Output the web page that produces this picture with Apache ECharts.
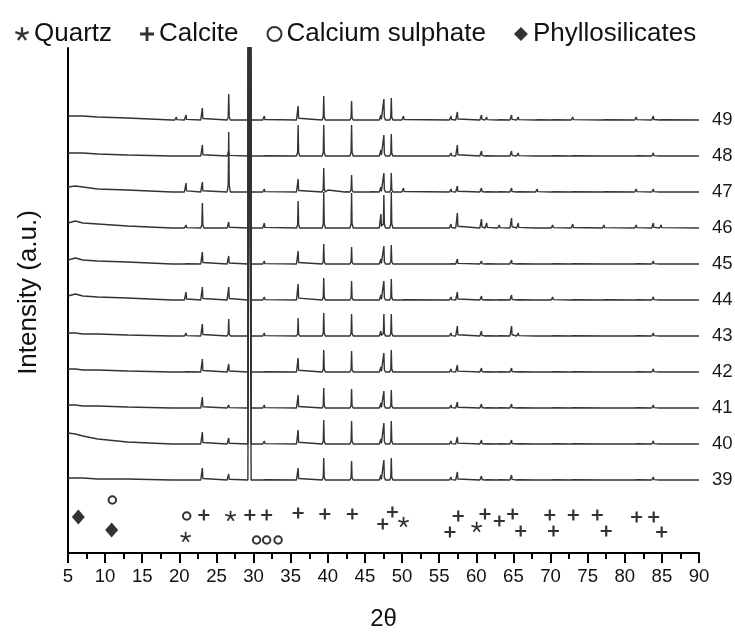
<!DOCTYPE html>
<html><head><meta charset="utf-8">
<script src="https://cdn.jsdelivr.net/npm/echarts@6/dist/echarts.min.js"></script>
<style>html,body{margin:0;padding:0;background:#fff}#c{width:735px;height:637px}</style>
</head><body><div id="c"></div>
<script>
// ---------- data ----------
const sampleNames = ['39','40','41','42','43','44','45','46','47','48','49'];
const xTicks = [5,10,15,20,25,30,35,40,45,50,55,60,65,70,75,80,85,90];

// diffraction peak positions (2θ)
const peakPositions = [19.6,20.9,23.1,26.65,29.45,31.45,36.0,39.45,40.0,42.5,43.2,45.9,47.15,47.55,48.55,50.2,56.6,57.45,60.7,61.4,63.1,64.75,65.65,68.2,70.3,73.0,77.2,81.55,83.85,84.9];
// peak heights per sample (a.u.)
const h39 = [0,1,12,6,3000,2,12,22,0,0,19,0,5,20,22,1,3,8,4,2,2,5,2,1,2,2,1,2,3,1];
const h40 = [0,0,12,6,3000,3,14,24,0,0,23,0,5,21,23,1,3,7,4,2,2,4,2,1,2,2,1,2,3,1];
const h41 = [0,0,11,3,3000,3,13,20,0,0,19,0,5,17,18,1,3,6,4,2,2,4,2,1,2,2,1,2,3,1];
const h42 = [0,2,13,8,3000,2,14,22,0,0,21,0,5,19,22,1,3,7,4,2,2,4,2,1,2,2,1,2,3,1];
const h43 = [0,3,12,17,3000,3,18,23,0,0,22,0,5,22,22,1,3,10,5,2,2,10,3,1,2,2,1,2,3,1];
const h44 = [0,8,13,13,3000,3,16,22,0,0,19,0,5,19,21,2,3,8,4,2,2,5,2,1,3,2,2,2,3,1];
const h45 = [0,2,12,8,3000,3,13,20,0,0,17,0,5,18,19,1,2,5,3,2,1,4,2,1,2,2,1,2,3,1];
const h46 = [0,3,25,6,3000,5,27,36,0,0,35,0,14,33,36,1,4,15,9,5,3,10,5,1,3,4,3,3,5,3];
const h47 = [0,9,10,60,3000,3,13,24,2,2,17,2,5,19,19,4,3,6,4,2,2,4,2,3,2,2,2,3,3,1];
const h48 = [0,1,11,5,3000,2,31,31,0,0,31,0,6,21,22,1,3,11,5,2,1,5,3,1,2,2,1,2,3,1];
const h49 = [3,5,12,26,3000,4,14,24,0,0,19,0,5,21,22,4,4,8,5,3,2,5,3,2,2,3,2,3,4,2];

// low-angle background per sample
const bgPositions = [5,6,7,9,13,19];
const bg39 = [2,2,2,1,1,0];
const bg40 = [11,10,8,5,2,0];
const bg41 = [3,3,2,2,1,0];
const bg42 = [3,3,2,2,1,0];
const bg43 = [3,3,2,2,1,0];
const bg44 = [4,6,4,3,2,0];
const bg45 = [4,6,4,3,2,0];
const bg46 = [5,7,5,4,2,0];
const bg47 = [5,6,5,3,2,0];
const bg48 = [3,3,3,2,1,0];
const bg49 = [4,4,4,3,2,0];

// phase identification marks [2θ, row height]
const quartzMarks   = [[20.85,16],[26.9,37],[50.2,31],[60.05,26]];
const calciteMarks  = [[23.3,38],[29.5,38],[31.76,38],[36.0,40],[39.6,39],[43.3,39],[47.4,29],[48.7,41],[56.45,21],[57.57,37],[61.17,39],[63.1,32],[64.9,39],[65.98,22],[69.9,38],[70.4,22],[73.07,38],[76.3,38],[77.5,22],[81.6,36],[83.9,36],[84.97,21]];
const sulphateMarks = [[10.97,53],[20.99,37],[30.4,13],[31.76,13],[33.3,13]];
const phylloMarks   = [[6.39,36],[10.88,23]];

// ---------- build ----------
const heights = [h39,h40,h41,h42,h43,h44,h45,h46,h47,h48,h49];
const backgrounds = [bg39,bg40,bg41,bg42,bg43,bg44,bg45,bg46,bg47,bg48,bg49];
const firstOffset = 73, stepOffset = 36;
const halfWidth = 0.22, footX = 0.3, footY = 0.12;   // peak profile shape

const font = 'Liberation Sans, Arial, sans-serif';

const lineSeries = sampleNames.map((name, i) => {
  const off = firstOffset + stepOffset * i;
  const pts = bgPositions.map((x, k) => [x, off + backgrounds[i][k]]);
  peakPositions.forEach((p, j) => {
    const h = heights[i][j];
    if (h > 0) {
      pts.push([p - halfWidth, off], [p - halfWidth * footX, off + h * footY], [p, off + h],
               [p + halfWidth * footX, off + h * footY], [p + halfWidth, off]);
    }
  });
  pts.push([90, off]);
  pts.sort((a, b) => a[0] - b[0]);
  return {
    name, type: 'line', data: pts, showSymbol: false, symbol: 'none', clip: true,
    lineStyle: { color: '#333', width: 1.4 }, z: 2, silent: true,
    endLabel: { show: true, formatter: name, distance: 13, fontSize: 18.6, color: '#1a1a1a', fontFamily: font }
  };
});

function asteriskPath() {
  const R = 50, t = 8, parts = [];
  for (let k = 0; k < 5; k++) {
    const a = (-90 + 72 * k) * Math.PI / 180;
    const dx = Math.cos(a), dy = Math.sin(a), px = -dy * t, py = dx * t;
    const cx = 50, cy = 50;
    parts.push('M' + (cx + px) + ',' + (cy + py) + 'L' + (cx + dx * R + px) + ',' + (cy + dy * R + py) +
      'L' + (cx + dx * R - px) + ',' + (cy + dy * R - py) + 'L' + (cx - px) + ',' + (cy - py) + 'Z');
  }
  return 'path://' + parts.join('');
}
const starSymbol = asteriskPath();
const plusPath = 'path://M4,0H6V4H10V6H6V10H4V6H0V4H4Z';

const markSeries = [
  { name: 'Quartz', type: 'scatter', data: quartzMarks, symbol: starSymbol, symbolSize: 11, symbolKeepAspect: true,
    itemStyle: { color: '#000' }, z: 5 },
  { name: 'Calcite', type: 'scatter', data: calciteMarks, symbol: plusPath, symbolSize: 11,
    itemStyle: { color: '#000' }, z: 5 },
  { name: 'Calcium sulphate', type: 'scatter', data: sulphateMarks, symbol: 'emptyCircle', symbolSize: 7.5,
    itemStyle: { color: '#000', borderColor: '#000', borderWidth: 1.3 }, z: 5 },
  { name: 'Phyllosilicates', type: 'scatter', data: phylloMarks, symbol: 'diamond', symbolSize: [13, 15],
    itemStyle: { color: '#000' }, z: 5 }
];

const chart = echarts.init(document.getElementById('c'), null, { renderer: 'canvas' });
chart.setOption({
  animation: false,
  backgroundColor: '#fff',
  textStyle: { fontFamily: font },
  legend: {
    data: ['Quartz', 'Calcite', 'Calcium sulphate', 'Phyllosilicates'],
    left: 10, top: 16, itemGap: 28, itemWidth: 14, itemHeight: 14,
    textStyle: { fontSize: 26, color: '#111', fontFamily: font },
    selectedMode: false
  },
  grid: { left: 68, right: 36, top: 48, bottom: 84, containLabel: false },
  xAxis: {
    type: 'value', min: 5, max: 90, interval: 5,
    name: '2θ', nameLocation: 'middle', nameGap: 54,
    nameTextStyle: { fontSize: 24, color: '#111', fontFamily: font },
    axisLine: { show: true, lineStyle: { color: '#000', width: 2 } },
    axisTick: { show: true, inside: false, length: 10, lineStyle: { color: '#000', width: 2 } },
    minorTick: { show: true, splitNumber: 2, length: 6, lineStyle: { color: '#000', width: 2 } },
    axisLabel: { margin: 14, fontSize: 18.6, color: '#111', fontFamily: font,
      customValues: xTicks, formatter: v => String(v) },
    splitLine: { show: false }
  },
  yAxis: {
    type: 'value', min: 0, max: 505,
    name: 'Intensity (a.u.)', nameLocation: 'middle', nameGap: 26,
    nameTextStyle: { fontSize: 26, color: '#111', fontFamily: font, padding: [0, 0, 0, 16] },
    axisLine: { show: true, onZero: false, lineStyle: { color: '#000', width: 2 } },
    axisTick: { show: false }, axisLabel: { show: false }, splitLine: { show: false }
  },
  series: lineSeries.concat(markSeries)
});
</script>
</body></html>
